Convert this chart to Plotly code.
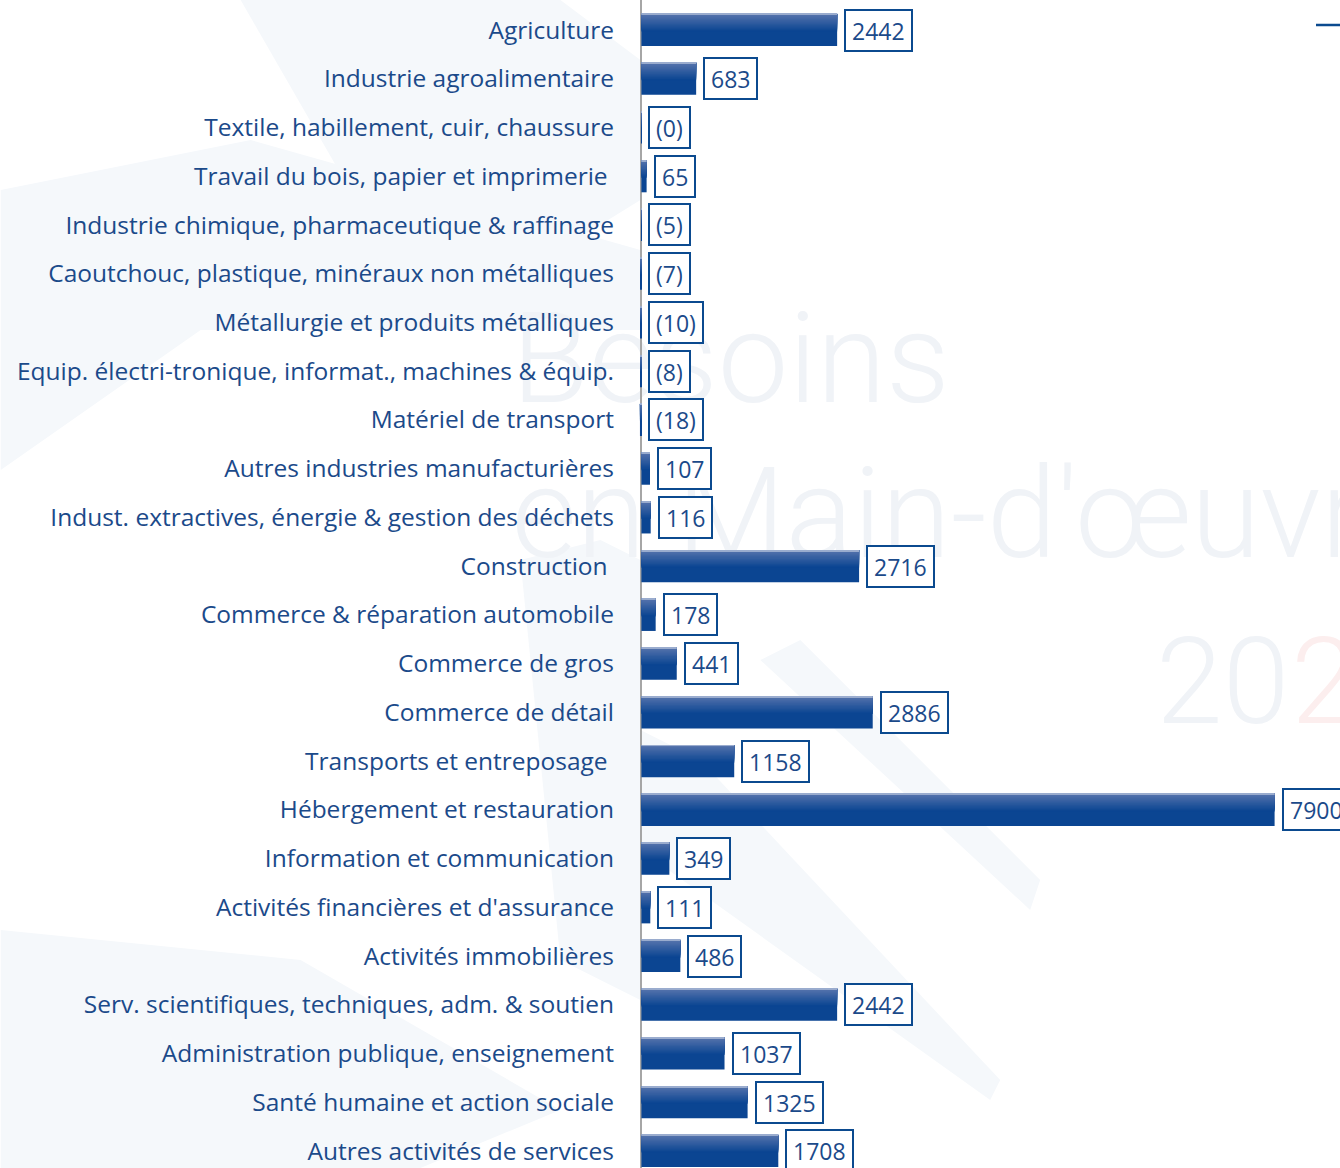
import plotly.graph_objects as go

categories = [
    "Agriculture",
    "Industrie agroalimentaire",
    "Textile, habillement, cuir, chaussure",
    "Travail du bois, papier et imprimerie\u00a0",
    "Industrie chimique, pharmaceutique & raffinage",
    "Caoutchouc, plastique, minéraux non métalliques",
    "Métallurgie et produits métalliques",
    "Equip. électri-tronique, informat., machines & équip.",
    "Matériel de transport",
    "Autres industries manufacturières",
    "Indust. extractives, énergie & gestion des déchets",
    "Construction\u00a0",
    "Commerce & réparation automobile",
    "Commerce de gros",
    "Commerce de détail",
    "Transports et entreposage\u00a0",
    "Hébergement et restauration",
    "Information et communication",
    "Activités financières et d'assurance",
    "Activités immobilières",
    "Serv. scientifiques, techniques, adm. & soutien",
    "Administration publique, enseignement",
    "Santé humaine et action sociale",
    "Autres activités de services",
]
values = [2442, 683, -0.4, 65, -5, -7, -10, -8, -18, 107, 116, 2716, 178, 441,
          2886, 1158, 7900, 349, 111, 486, 2442, 1037, 1325, 1708]

W, H = 1340, 1168
X0_PX = 638.6
XMIN, XMAX = -30, 8716
TEXT = "#1B4A8A"
BORDER = "#0B4A8F"
FONT = "Open Sans"


def fmt(v):
    r = int(round(abs(v)))
    return f"({r})" if v < 0 else f"{r}"


def px(xp):
    return (xp - X0_PX) / (W - X0_PX)


def py(yp):
    return 1 - yp / H


def mix(c1, c2, t):
    a = [int(c1[i:i + 2], 16) for i in (1, 3, 5)]
    b = [int(c2[i:i + 2], 16) for i in (1, 3, 5)]
    return "#" + "".join(f"{round(x + (y - x) * t):02X}" for x, y in zip(a, b))


fig = go.Figure()

# bar with vertical shading (light top fading into dark blue)
BW = 0.66
fig.add_trace(go.Bar(y=categories, x=values, orientation="h", width=BW, offset=-BW / 2,
                     marker=dict(color="#0B4592", line=dict(width=0)), showlegend=False))
steps = 14
for i in range(steps, 0, -1):
    frac = 0.55 * i / steps
    col = mix("#5573AC", "#0B4592", (i - 1) / (steps - 1))
    fig.add_trace(go.Bar(y=categories, x=values, orientation="h", width=BW * frac,
                         offset=-BW / 2, marker=dict(color=col, line=dict(width=0)),
                         hoverinfo="skip", showlegend=False))
fig.add_trace(go.Bar(y=categories, x=values, orientation="h", width=BW * 0.03,
                     offset=-BW / 2, marker=dict(color="#9AACCE", line=dict(width=0)),
                     hoverinfo="skip", showlegend=False))

for cat, v in zip(categories, values):
    fig.add_annotation(
        x=max(v, 0), y=cat, xref="x", yref="y",
        text=fmt(v), showarrow=False, xanchor="left", yanchor="middle",
        xshift=7, font=dict(family=FONT, size=23, color=TEXT),
        height=27, bordercolor=BORDER, borderwidth=2, borderpad=6, bgcolor="white",
    )

# faint decorative bands
band = "#F5F8FB"
for pts in [
    [(0, 190), (250, 140), (640, 250), (640, 330), (200, 330), (0, 470)],
    [(240, 0), (560, 0), (640, 60), (640, 200), (430, 330)],
    [(0, 930), (300, 960), (560, 1110), (420, 1168), (0, 1168)],
    [(520, 560), (600, 540), (640, 560), (640, 1000), (560, 960)],
    [(760, 660), (800, 640), (1040, 880), (1030, 910)],
    [(640, 730), (700, 760), (1000, 1080), (990, 1100), (640, 850)],
]:
    path = "M " + " L ".join(f"{px(a):.4f},{py(b):.4f}" for a, b in pts) + " Z"
    fig.add_shape(type="path", xref="paper", yref="paper", path=path,
                  fillcolor=band, line=dict(width=0), layer="below")

# faint watermark
wm = "#F0F3F7"
for text, x0, x1, y0, y1, size, col in [
    ("Besoins", 505, 940, 290, 410, 126, wm),
    ("en Main-d'œuvre", 505, 1500, 445, 565, 126, wm),
    ("20", 1150, 1290, 615, 730, 120, wm),
    ("2", 1285, 1360, 615, 730, 120, "#FCEEEE"),
]:
    fig.add_shape(type="rect", xref="paper", yref="paper",
                  x0=px(x0), x1=px(x1), y0=py(y1), y1=py(y0),
                  line=dict(width=0), fillcolor="rgba(0,0,0,0)", layer="below",
                  label=dict(text=text, textposition="middle left",
                             font=dict(family="Roboto", size=size, color=col, weight=300)))

# small legend line stub at top right
fig.add_shape(type="line", xref="paper", yref="paper",
              x0=px(1316), x1=px(1340), y0=py(25), y1=py(25),
              line=dict(color=BORDER, width=2.5))

fig.update_layout(
    width=W, height=H,
    margin=dict(l=X0_PX, r=0, t=0, b=0),
    paper_bgcolor="white", plot_bgcolor="rgba(0,0,0,0)",
    barmode="overlay",
    showlegend=False,
    xaxis=dict(range=[XMIN, XMAX], showgrid=False, showticklabels=False,
               zeroline=True, zerolinecolor="#A6A6A6", zerolinewidth=1.5,
               fixedrange=True),
    yaxis=dict(type="category", range=[23.349, -0.6155], showgrid=False,
               tickfont=dict(family=FONT, size=24.5, color=TEXT),
               ticks="", ticklabelstandoff=24, fixedrange=True),
)

fig.write_html("out.html", config={"displayModeBar": False},
               post_script="document.body.style.margin='0px';document.body.style.overflow='hidden';")
